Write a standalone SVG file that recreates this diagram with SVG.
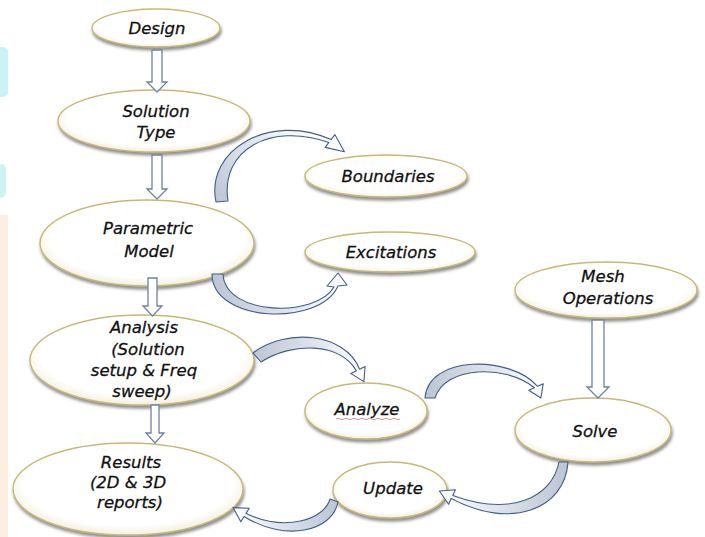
<svg xmlns="http://www.w3.org/2000/svg" width="705" height="537" viewBox="0 0 705 537">
<defs>
<radialGradient id="eg" cx="50%" cy="45%" r="58%">
<stop offset="0" stop-color="#ffffff"/>
<stop offset="0.78" stop-color="#ffffff"/>
<stop offset="1" stop-color="#efe9d1"/>
</radialGradient>
<linearGradient id="g1" x1="0" y1="1" x2="1" y2="0.3"><stop offset="0" stop-color="#bcc5d3"/><stop offset="0.55" stop-color="#dfe4eb"/><stop offset="1" stop-color="#ffffff"/></linearGradient>
<linearGradient id="gR" x1="0" y1="0" x2="1" y2="0"><stop offset="0" stop-color="#bcc5d3"/><stop offset="0.55" stop-color="#dfe4eb"/><stop offset="1" stop-color="#ffffff"/></linearGradient>
<linearGradient id="gL" x1="1" y1="0" x2="0" y2="0"><stop offset="0" stop-color="#bcc5d3"/><stop offset="0.55" stop-color="#dfe4eb"/><stop offset="1" stop-color="#ffffff"/></linearGradient>
<filter id="sh" x="-10%" y="-10%" width="120%" height="130%">
<feDropShadow dx="1" dy="3" stdDeviation="1.6" flood-color="#555" flood-opacity="0.65"/>
</filter>
</defs>
<style>
.node ellipse{fill:url(#eg);stroke:#c9b873;stroke-width:1.4;filter:url(#sh)}
.node text{font-family:"DejaVu Sans",sans-serif;font-style:oblique;font-size:16.5px;fill:#111;stroke:#111;stroke-width:0.3;text-anchor:middle}
.blk{fill:#ffffff;stroke:#6e82a4;stroke-width:1.3}
.crv{stroke:#3f5d8c;stroke-width:1.1;stroke-linejoin:round}
</style>
<rect width="705" height="537" fill="#ffffff"/>
<g id="watermark">
<rect x="-6" y="47" width="14" height="50" rx="5" fill="#c9f3f7"/>
<rect x="-6" y="164" width="12" height="34" rx="5" fill="#cdf3f7"/>
<rect x="0" y="215" width="8" height="322" fill="#fdeee2"/>
</g>
<g id="design" class="node"><ellipse cx="156" cy="28" rx="64" ry="19"/><text x="157" y="34">Design</text></g>
<g id="solution-type" class="node"><ellipse cx="154" cy="121" rx="96" ry="31"/><text x="156" y="117">Solution</text><text x="156" y="138">Type</text></g>
<g id="parametric-model" class="node"><ellipse cx="147" cy="243" rx="107" ry="43"/><text x="148" y="234">Parametric</text><text x="149" y="257">Model</text></g>
<g id="analysis" class="node"><ellipse cx="142" cy="360" rx="112" ry="45"/><text x="144" y="333">Analysis</text><text x="148" y="355">(Solution</text><text x="144" y="376">setup &amp; Freq</text><text x="142" y="397">sweep)</text></g>
<g id="results" class="node"><ellipse cx="128" cy="489" rx="115" ry="46"/><text x="131" y="468">Results</text><text x="128" y="488">(2D &amp; 3D</text><text x="130" y="508">reports)</text></g>
<g id="boundaries" class="node"><ellipse cx="386" cy="176" rx="81" ry="21"/><text x="388" y="182">Boundaries</text></g>
<g id="excitations" class="node"><ellipse cx="390" cy="252" rx="85" ry="20"/><text x="391" y="258">Excitations</text></g>
<g id="mesh-operations" class="node"><ellipse cx="606" cy="290" rx="91" ry="28"/><text x="603" y="282">Mesh</text><text x="608" y="304">Operations</text></g>
<g id="analyze" class="node"><ellipse cx="366" cy="411" rx="61" ry="28"/><text x="367" y="415">Analyze</text><path d="M336 419 q2 -1.5 4 0 t4 0 t4 0 t4 0 t4 0 t4 0 t4 0 t4 0 t4 0 t4 0 t4 0 t4 0 t4 0 t4 0 t4 0 t4 0" fill="none" stroke="#e08080" stroke-width="0.9"/></g>
<g id="solve" class="node"><ellipse cx="593" cy="430" rx="78" ry="32"/><text x="595" y="437">Solve</text></g>
<g id="update" class="node"><ellipse cx="390" cy="490" rx="57" ry="28"/><text x="393" y="494">Update</text></g>
<g id="connectors">
<path class="blk" d="M152 50 L162 50 L162 82 L167 82 L157 92 L147 82 L152 82 Z"/>
<path class="blk" d="M152 155 L162 155 L162 189 L167 189 L157 199 L147 189 L152 189 Z"/>
<path class="blk" d="M148 278 L157 278 L157 306 L162 306 L152.5 316 L143 306 L148 306 Z"/>
<path class="blk" d="M151 405 L159 405 L159 433 L164 433 L155 443 L146 433 L151 433 Z"/>
<path class="blk" d="M592 320 L604 320 L604 387 L609 387 L598 398 L587 387 L592 387 Z"/>
<path class="crv" fill="url(#g1)" d="M216 202 C205 150 270 112 331.1 139.6 L334.8 134.6 L344.4 151.8 L325.2 147.4 L328.9 142.4 C270 122 220 150 228 201 Z"/>
<path class="crv" fill="url(#gR)" d="M212 274 C212 323 320 327 338 286 L347 285 L338 273 L327 286 L334 287 C316 318 225 316 223 274 Z"/>
<path class="crv" fill="url(#gR)" d="M253 353 C285 328 345 332 359.6 369.2 L365.1 366.4 L363.9 381.6 L350.9 373.6 L356.4 370.8 C340 342 292 342 261 362 Z"/>
<path class="crv" fill="url(#gR)" d="M425 398 C428 355 510 355 537.6 386.3 L543.2 383.8 L540.8 398 L528.8 390.2 L534.4 387.7 C505 364 445 366 435 398 Z"/>
<path class="crv" fill="url(#gL)" d="M568 462 C565 510 510 530 451.2 498.6 L448.6 504.2 L439.4 491 L455.4 489.8 L452.8 495.4 C512 517 552 497 559 462 Z"/>
<path class="crv" fill="url(#gL)" d="M338 502 C332 532 285 542 244 516.5 L240.8 521.8 L233.1 507.6 L249.2 508.2 L246 513.5 C285 532 324 520 330 499 Z"/>
</g>
</svg>
